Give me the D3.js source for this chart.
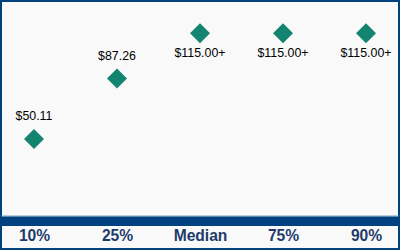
<!DOCTYPE html>
<html>
<head>
<meta charset="utf-8">
<script src="https://cdn.jsdelivr.net/npm/d3@7"></script>
<style>
  html, body { margin: 0; padding: 0; background: #ffffff; }
  svg { display: block; }
</style>
</head>
<body>
<svg id="chart" width="400" height="250"></svg>
<script>
const categories = ["10%", "25%", "Median", "75%", "90%"];
const values = [50.11, 87.26, 115.00, 115.00, 115.00];
const valueLabels = ["$50.11", "$87.26", "$115.00+", "$115.00+", "$115.00+"];
const labelAbove = [true, true, false, false, false];

const W = 400, H = 250;
const svg = d3.select("#chart");

// background + border
svg.append("rect").attr("x", 1).attr("y", 1).attr("width", W - 2).attr("height", H - 2)
  .attr("fill", "#f9f9f9").attr("stroke", "#00427f").attr("stroke-width", 2);

const x = d3.scalePoint().domain(categories).range([34, 366]);
const y = d3.scaleLinear().domain([0, 135]).range([220.6, 0.8]);

// axis band
svg.append("rect").attr("x", 1).attr("y", 215.5).attr("width", W - 2).attr("height", 1)
  .attr("fill", "#7f9fc0");
svg.append("rect").attr("x", 1).attr("y", 216.5).attr("width", W - 2).attr("height", 9.5)
  .attr("fill", "#00427f");

// category labels via axis
const axis = d3.axisBottom(x).tickSize(0).tickPadding(0);
const ag = svg.append("g").attr("transform", "translate(0,228)").call(axis);
ag.select(".domain").remove();
ag.selectAll("text")
  .attr("dy", null)
  .attr("y", 13)
  .attr("fill", "#1d3b6c")
  .style("font-family", "Arial, 'Liberation Sans', sans-serif")
  .style("font-size", "15.6px")
  .style("font-weight", "bold");

// diamonds
const data = categories.map((c, i) => ({c, v: values[i], lab: valueLabels[i], above: labelAbove[i]}));
const sym = d3.symbol().type(d3.symbolSquare).size(200);
svg.append("g").selectAll("path").data(data).join("path")
  .attr("d", sym)
  .attr("transform", d => `translate(${x(d.c)},${y(d.v)}) rotate(45)`)
  .attr("fill", "#13846f");

// value labels
svg.append("g").selectAll("text").data(data).join("text")
  .attr("x", d => x(d.c))
  .attr("y", d => y(d.v) + (d.above ? -19 : 23.5))
  .attr("text-anchor", "middle")
  .attr("fill", "#000")
  .style("font-family", "Arial, 'Liberation Sans', sans-serif")
  .style("font-size", "12.4px")
  .text(d => d.lab);
</script>
</body>
</html>
